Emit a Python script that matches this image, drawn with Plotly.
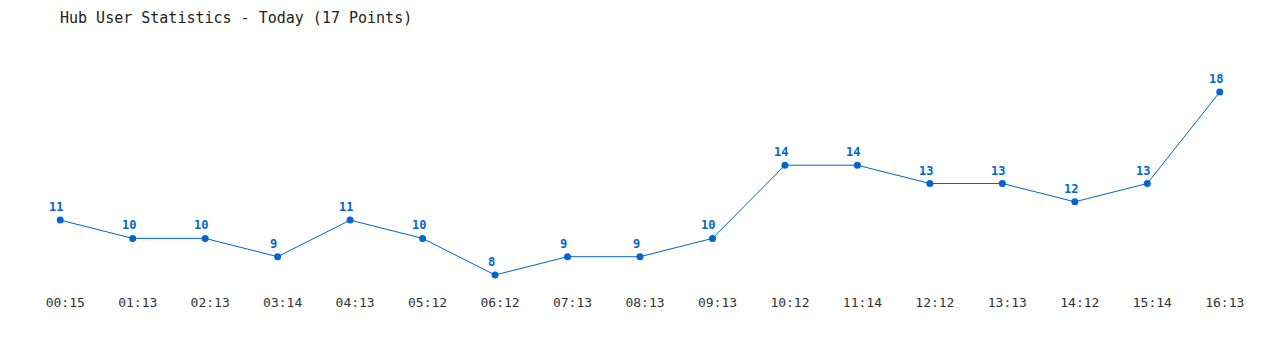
import plotly.graph_objects as go

times = ["00:15", "01:13", "02:13", "03:14", "04:13", "05:12", "06:12", "07:13", "08:13",
         "09:13", "10:12", "11:14", "12:12", "13:13", "14:12", "15:14", "16:13"]
users = [11, 10, 10, 9, 11, 10, 8, 9, 9, 10, 14, 14, 13, 13, 12, 13, 18]

x = list(range(len(times)))
blue = "#0066cc"
mono = "DejaVu Sans Mono, Liberation Mono, monospace"

fig = go.Figure(go.Scatter(
    x=x, y=users, mode="lines+markers",
    line=dict(color=blue, width=1),
    marker=dict(color=blue, size=7),
    cliponaxis=False, hoverinfo="x+y",
))

for xi, v in zip(x, users):
    fig.add_annotation(x=xi, y=v, text=str(v), showarrow=False,
                       xanchor="center", yanchor="middle", xshift=-4, yshift=13,
                       font=dict(family=mono, size=12, color=blue, weight="bold"))

fig.update_layout(
    width=1280, height=350,
    margin=dict(l=24, r=24, t=50, b=60),
    paper_bgcolor="white", plot_bgcolor="white",
    showlegend=False,
    title=dict(text="Hub User Statistics - Today (17 Points)",
               font=dict(family=mono, size=15, color="#222222"),
               xref="container", yref="container",
               x=60/1280, xanchor="left", y=1-18/350, yanchor="middle"),
    xaxis=dict(range=[-0.5, len(times) - 0.5], tickvals=x, ticktext=times,
               showgrid=False, zeroline=False, showline=False,
               ticks="", ticklabelshift=5, ticklabelstandoff=3,
               tickfont=dict(family=mono, size=13, color="#333333")),
    yaxis=dict(range=[7.18, 20.295], visible=False, showgrid=False, zeroline=False),
)

fig.write_html("out.html")
